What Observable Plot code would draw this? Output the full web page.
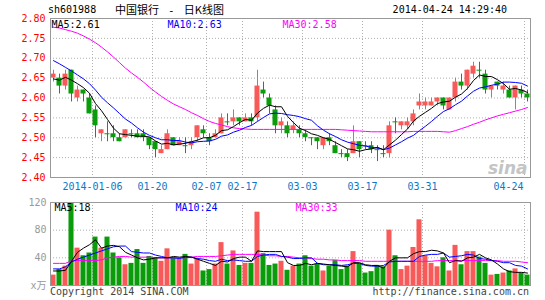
<!DOCTYPE html>
<html>
<head>
<meta charset="utf-8">
<script src="https://cdn.jsdelivr.net/npm/d3@7"></script>
<script src="https://cdn.jsdelivr.net/npm/@observablehq/plot@0.6"></script>
<style>
  html, body { margin: 0; padding: 0; background: #fff; }
  #wrap { position: relative; width: 545px; height: 300px; overflow: hidden;
          font-family: 'DejaVu Sans Mono', 'Noto Sans CJK SC', monospace; font-size: 10px; }
  .abs { position: absolute; white-space: pre; line-height: 12px; }
  #topbox, #botbox { position: absolute; left: 0; }
  #topbox { top: 0; }
  #botbox { top: 195px; }
</style>
</head>
<body>
<div id="wrap">
  <div id="topbox"></div>
  <div id="botbox"></div>
  <div class="abs" style="left:48px;top:4px;color:#000">sh601988</div>
  <div class="abs" style="left:115px;top:3px;color:#000;font-size:11px;font-family:'Noto Sans CJK SC','DejaVu Sans Mono',sans-serif">中国银行 <span style="font-family:'DejaVu Sans Mono'"> - </span> 日K线图</div>
  <div class="abs" style="right:38px;top:4px;color:#000">2014-04-24 14:29:40</div>
  <div class="abs" style="left:50px;top:286px;color:#444">Copyright 2014 SINA.COM</div>
  <div class="abs" style="right:16px;top:286px;color:#444">http://finance.sina.com.cn</div>
</div>
<script>
// ---- data ----
const days = [
 "2013-12-25","2013-12-26","2013-12-27","2013-12-30","2013-12-31","2014-01-02","2014-01-03",
 "2014-01-06","2014-01-07","2014-01-08","2014-01-09","2014-01-10",
 "2014-01-13","2014-01-14","2014-01-15","2014-01-16","2014-01-17",
 "2014-01-20","2014-01-21","2014-01-22","2014-01-23","2014-01-24",
 "2014-01-27","2014-01-28","2014-01-29","2014-01-30",
 "2014-02-07",
 "2014-02-10","2014-02-11","2014-02-12","2014-02-13","2014-02-14",
 "2014-02-17","2014-02-18","2014-02-19","2014-02-20","2014-02-21",
 "2014-02-24","2014-02-25","2014-02-26","2014-02-27","2014-02-28",
 "2014-03-03","2014-03-04","2014-03-05","2014-03-06","2014-03-07",
 "2014-03-10","2014-03-11","2014-03-12","2014-03-13","2014-03-14",
 "2014-03-17","2014-03-18","2014-03-19","2014-03-20","2014-03-21",
 "2014-03-24","2014-03-25","2014-03-26","2014-03-27","2014-03-28",
 "2014-03-31","2014-04-01","2014-04-02","2014-04-03","2014-04-04",
 "2014-04-08","2014-04-09","2014-04-10","2014-04-11",
 "2014-04-14","2014-04-15","2014-04-16","2014-04-17","2014-04-18",
 "2014-04-21","2014-04-22","2014-04-23","2014-04-24"
];
const open = [2.65,2.65,2.63,2.67,2.60,2.62,2.60,2.57,2.51,2.51, 2.51,2.50,2.50,2.51,2.51,2.51,2.50,2.49,2.46,2.47,
 2.50,2.48,2.48,2.48,2.50,2.52,2.50,2.50,2.51,2.54, 2.54,2.55,2.54,2.55,2.55,2.62,2.60,2.57,2.53,2.53,
 2.52,2.52,2.51,2.50,2.50,2.48,2.50,2.48,2.46,2.46, 2.46,2.49,2.48,2.48,2.47,2.46,2.46,2.54,2.53,2.53,
 2.54,2.58,2.58,2.58,2.59,2.60,2.57,2.60,2.64,2.63, 2.66,2.67,2.66,2.62,2.64,2.62,2.62,2.60,2.62,2.61];
const high = [2.67,2.66,2.67,2.67,2.63,2.62,2.61,2.58,2.52,2.54, 2.53,2.51,2.52,2.52,2.52,2.52,2.50,2.49,2.48,2.52,
 2.50,2.50,2.50,2.50,2.53,2.53,2.51,2.52,2.56,2.56, 2.57,2.55,2.56,2.56,2.67,2.64,2.61,2.58,2.55,2.54,
 2.54,2.53,2.52,2.50,2.50,2.50,2.51,2.49,2.47,2.47, 2.53,2.49,2.49,2.49,2.48,2.48,2.54,2.55,2.54,2.55,
 2.57,2.61,2.60,2.60,2.60,2.60,2.60,2.65,2.66,2.67, 2.69,2.69,2.67,2.63,2.64,2.64,2.63,2.63,2.63,2.62];
const low = [2.64,2.61,2.62,2.59,2.59,2.59,2.56,2.50,2.49,2.49, 2.49,2.49,2.50,2.50,2.50,2.49,2.47,2.45,2.46,2.47,
 2.48,2.48,2.46,2.47,2.49,2.50,2.48,2.50,2.51,2.53, 2.53,2.53,2.54,2.53,2.54,2.60,2.56,2.51,2.51,2.50,
 2.51,2.50,2.49,2.48,2.47,2.47,2.48,2.46,2.45,2.44, 2.46,2.45,2.47,2.46,2.44,2.45,2.45,2.51,2.52,2.52,
 2.53,2.57,2.57,2.58,2.58,2.57,2.57,2.59,2.62,2.62, 2.65,2.65,2.61,2.60,2.62,2.61,2.60,2.57,2.60,2.59];
const close = [2.66,2.63,2.66,2.61,2.62,2.61,2.56,2.53,2.52,2.51, 2.50,2.49,2.52,2.51,2.50,2.50,2.48,2.47,2.47,2.51,
 2.48,2.49,2.48,2.49,2.53,2.51,2.49,2.51,2.55,2.54, 2.55,2.54,2.55,2.54,2.63,2.61,2.58,2.53,2.54,2.51,
 2.53,2.51,2.50,2.50,2.49,2.50,2.49,2.46,2.46,2.45, 2.49,2.47,2.48,2.47,2.47,2.46,2.53,2.54,2.54,2.54,
 2.56,2.59,2.59,2.59,2.60,2.58,2.60,2.64,2.63,2.67, 2.68,2.67,2.62,2.63,2.63,2.63,2.60,2.63,2.61,2.60];
const ma5 = [2.648,2.645,2.652,2.645,2.636,2.626,2.612,2.586,2.568,2.546, 2.524,2.510,2.508,2.506,2.504,2.504,2.502,2.492,2.484,2.486,
 2.482,2.484,2.486,2.490,2.494,2.500,2.500,2.506,2.518,2.520, 2.528,2.538,2.546,2.544,2.562,2.574,2.582,2.578,2.578,2.554,
 2.538,2.524,2.518,2.510,2.506,2.500,2.496,2.488,2.480,2.472, 2.470,2.466,2.470,2.472,2.476,2.470,2.482,2.494,2.508,2.522,
 2.542,2.554,2.564,2.574,2.586,2.590,2.592,2.602,2.610,2.624, 2.644,2.658,2.654,2.654,2.646,2.636,2.622,2.624,2.620,2.614];
const ma10 = [2.694,2.686,2.677,2.668,2.658,2.648,2.636,2.620,2.602,2.588, 2.575,2.561,2.547,2.537,2.525,2.514,2.506,2.500,2.495,2.495,
 2.493,2.493,2.489,2.487,2.490,2.491,2.492,2.496,2.504,2.507, 2.514,2.519,2.526,2.531,2.541,2.551,2.560,2.562,2.561,2.558,
 2.556,2.553,2.548,2.544,2.530,2.519,2.510,2.503,2.495,2.489, 2.485,2.481,2.479,2.476,2.474,2.470,2.474,2.482,2.490,2.499,
 2.506,2.518,2.529,2.541,2.554,2.566,2.573,2.583,2.592,2.605, 2.617,2.625,2.628,2.632,2.635,2.640,2.640,2.639,2.637,2.630];
const ma30 = [2.778,2.776,2.772,2.768,2.763,2.756,2.748,2.739,2.728,2.716, 2.703,2.689,2.675,2.663,2.652,2.640,2.627,2.615,2.604,2.594,
 2.585,2.578,2.571,2.563,2.556,2.548,2.541,2.536,2.532,2.528, 2.525,2.523,2.522,2.521,2.521,2.521,2.521,2.521,2.521,2.521,
 2.521,2.521,2.521,2.521,2.521,2.521,2.521,2.521,2.520,2.519, 2.518,2.517,2.516,2.515,2.515,2.515,2.515,2.515,2.515,2.515,
 2.516,2.516,2.516,2.516,2.516,2.515,2.514,2.518,2.523,2.528, 2.534,2.539,2.545,2.550,2.555,2.559,2.563,2.567,2.571,2.576];
const volume = [15,23,28,122,54,43,47,70,54,70, 47,40,30,32,52,32,42,40,35,53, 40,38,45,31,38,21,23,31,62,31,
 50,29,32,32,106,46,29,31,35,22, 28,31,43,28,31,21,28,36,23,28, 49,31,18,20,29,27,80,43,23,28,
 55,95,43,32,27,40,21,58,30,49, 49,41,32,15,16,18,21,24,18,15];
const vma5 = [21,21,22,35,48,54,59,66,54,57, 58,56,48,44,40,37,38,40,40,40, 42,41,42,41,38,35,32,29,35,34,
 39,41,41,35,50,49,49,49,49,33, 29,29,32,30,32,31,30,29,28,27, 33,33,30,29,29,25,35,40,40,40,
 46,49,49,51,50,47,33,36,35,40, 41,45,40,37,31,24,20,19,19,18];
const vma10 = [24,24,27,34,38,41,44,47,50,53, 56,57,57,49,48,47,47,44,42,40, 40,39,41,41,39,38,36,35,38,36,
 37,36,35,35,42,44,45,45,42,41, 39,39,40,40,32,30,30,30,29,30, 32,32,29,28,28,29,34,35,35,35,
 35,42,44,45,45,47,41,42,43,45, 44,39,38,36,35,33,33,29,28,24];
const vma30 = [32,32,32,36,36,36,36,36,37,40, 41,42,42,41,41,41,41,40,40,40, 40,40,40,41,42,42,42,42,43,44,
 45,45,45,45,45,44,43,43,42,42, 41,40,40,39,38,38,37,37,36,36, 36,36,35,35,35,35,35,35,35,35,
 35,35,35,35,36,36,36,36,36,36, 36,36,36,36,36,35,35,35,34,33];
const dateTicks = ["2014-01-06","2014-01-20","2014-02-07","2014-02-17","2014-03-03","2014-03-17","2014-03-31","2014-04-24"];
const dateTickLabels = ["2014-01-06","01-20","02-07","02-17","03-03","03-17","03-31","04-24"];
const priceTicks = [2.40,2.45,2.50,2.55,2.60,2.65,2.70,2.75,2.80];
const volTicks = [0,40,80,120];
const volTickLabels = ["x万","40","80","120"];

// ---- build ----
const RED = "#f85a5a", GREEN = "#0a9c0a", BLUE = "#0000ff", MAG = "#ff00ff";
const GRID = "#b0b0b0", FRAME = "#999999", DATEC = "#0b78c8";
const HALF = 0.42;
const rows = days.map((d, i) => ({
  i, date: d, open: open[i], high: high[i], low: low[i], close: close[i],
  ma5: ma5[i], ma10: ma10[i], ma30: ma30[i],
  vol: volume[i], vma5: vma5[i], vma10: vma10[i], vma30: vma30[i],
  col: close[i] > open[i] ? RED : GREEN
}));
const ticks = dateTicks.map((d, k) => ({i: days.indexOf(d), label: dateTickLabels[k]}));
const xDomain = [-0.5, days.length - 0.5];
const font = {fontFamily: "'DejaVu Sans Mono', 'Noto Sans CJK SC', monospace", fontSize: "10px", background: "transparent", overflow: "visible"};

const priceChart = Plot.plot({
  width: 545, height: 195, marginLeft: 50, marginRight: 15, marginTop: 18, marginBottom: 18,
  style: font,
  x: {domain: xDomain, axis: null},
  y: {domain: [priceTicks[0], priceTicks[priceTicks.length - 1]], axis: null},
  color: {type: "identity"},
  marks: [
    Plot.ruleY(priceTicks.slice(1, -1), {stroke: GRID, strokeDasharray: "1,2"}),
    Plot.ruleX(ticks, {x: d => d.i - 0.5, stroke: GRID, strokeDasharray: "1,2"}),
    Plot.ruleX(rows, {x: "i", y1: "low", y2: "high", stroke: "col"}),
    Plot.rect(rows.filter(d => d.open !== d.close), {x1: d => d.i - HALF, x2: d => d.i + HALF, y1: "open", y2: "close", fill: "col"}),
    Plot.ruleY(rows.filter(d => d.open === d.close), {y: "close", x1: d => d.i - HALF, x2: d => d.i + HALF, stroke: "col"}),
    Plot.line(rows, {x: "i", y: "ma30", stroke: MAG, strokeWidth: 1}),
    Plot.line(rows, {x: "i", y: "ma10", stroke: BLUE, strokeWidth: 1}),
    Plot.line(rows, {x: "i", y: "ma5", stroke: "#000", strokeWidth: 1}),
    Plot.frame({stroke: FRAME}),
    Plot.text(priceTicks, {frameAnchor: "left", y: d => d, text: d => d.toFixed(2), textAnchor: "end", dx: -5, fill: "#ff0000"}),
    Plot.text(ticks.slice(0, -1), {x: d => d.i - 0.5, frameAnchor: "bottom", lineAnchor: "middle", dy: 9, text: "label", fill: DATEC}),
    Plot.text(ticks.slice(-1), {x: d => d.i - 0.5, frameAnchor: "bottom", lineAnchor: "middle", dy: 9, dx: -1, textAnchor: "end", text: "label", fill: DATEC}),
    Plot.text([`MA5:${ma5[ma5.length-1].toFixed(2)}`], {frameAnchor: "top-left", lineAnchor: "middle", textAnchor: "start", dx: 1, dy: 6, fill: "#000"}),
    Plot.text([`MA10:${ma10[ma10.length-1].toFixed(2)}`], {frameAnchor: "top-left", lineAnchor: "middle", textAnchor: "start", dx: 117, dy: 6, fill: BLUE}),
    Plot.text([`MA30:${ma30[ma30.length-1].toFixed(2)}`], {frameAnchor: "top-left", lineAnchor: "middle", textAnchor: "start", dx: 232, dy: 6, fill: MAG}),
    Plot.text(["sina"], {frameAnchor: "bottom-right", lineAnchor: "bottom", textAnchor: "end", dx: -3, dy: -4, fill: "#c4c4c4", fontSize: 17, fontWeight: "bold", fontStyle: "italic", fontFamily: "'DejaVu Sans', sans-serif"})
  ]
});
document.getElementById("topbox").appendChild(priceChart);

const volChart = Plot.plot({
  width: 545, height: 105, marginLeft: 50, marginRight: 15, marginTop: 7, marginBottom: 15,
  style: font,
  x: {domain: xDomain, axis: null},
  y: {domain: [volTicks[0], volTicks[volTicks.length - 1]], axis: null},
  color: {type: "identity"},
  marks: [
    Plot.ruleY(volTicks.slice(1, -1), {stroke: GRID, strokeDasharray: "1,2"}),
    Plot.ruleX(ticks, {x: d => d.i - 0.5, stroke: GRID, strokeDasharray: "1,2"}),
    Plot.rect(rows, {x1: d => d.i - HALF, x2: d => d.i + HALF, y1: 0, y2: "vol", fill: "col", clip: true}),
    Plot.line(rows, {x: "i", y: "vma30", stroke: MAG, strokeWidth: 1, clip: true}),
    Plot.line(rows, {x: "i", y: "vma10", stroke: BLUE, strokeWidth: 1, clip: true}),
    Plot.line(rows, {x: "i", y: "vma5", stroke: "#000", strokeWidth: 1, clip: true}),
    Plot.frame({stroke: FRAME}),
    Plot.text(volTicks, {frameAnchor: "left", y: d => d, text: (d, k) => volTickLabels[k], textAnchor: "end", dx: -4, fill: "#999"}),
    Plot.text([`MA5:${vma5[vma5.length-1]}`], {frameAnchor: "top-left", lineAnchor: "middle", textAnchor: "start", dx: 4, dy: 5, fill: "#000"}),
    Plot.text([`MA10:${vma10[vma10.length-1]}`], {frameAnchor: "top-left", lineAnchor: "middle", textAnchor: "start", dx: 125, dy: 5, fill: BLUE}),
    Plot.text([`MA30:${vma30[vma30.length-1]}`], {frameAnchor: "top-left", lineAnchor: "middle", textAnchor: "start", dx: 245, dy: 5, fill: MAG})
  ]
});
document.getElementById("botbox").appendChild(volChart);
</script>
</body>
</html>
